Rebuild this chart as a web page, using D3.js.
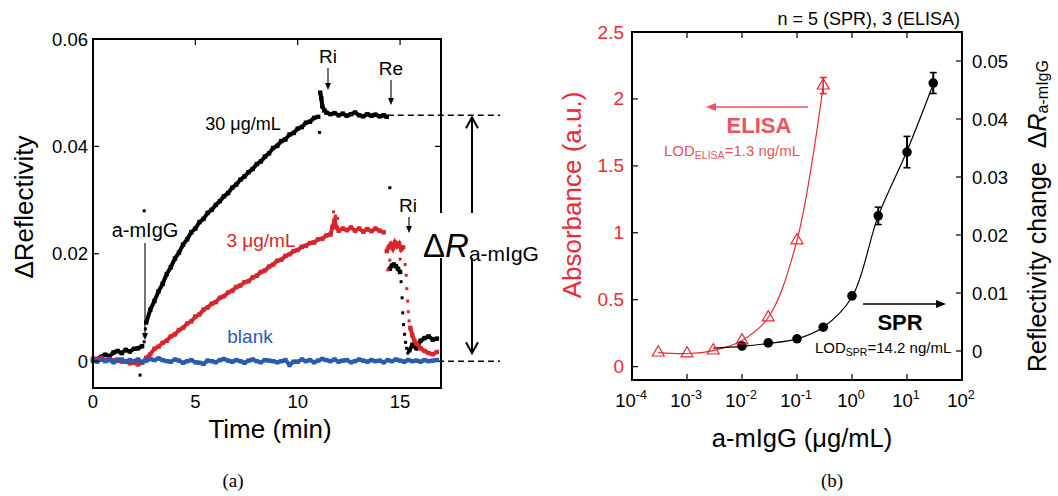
<!DOCTYPE html>
<html><head><meta charset="utf-8">
<script src="https://cdn.jsdelivr.net/npm/d3@7"></script>
<style>
body{margin:0;background:#fff;}
svg text{font-family:"Liberation Sans",Arial,Helvetica,sans-serif;}
</style></head><body>
<svg id="fig" width="1058" height="496"></svg>
<script>
// ---------- Panel (a): SPR sensorgrams, [time (min), ΔReflectivity] ----------
const blankTrace = [
[0,0.0002],[0.2,-0.0001],[0.4,0.0003],[0.6,0.0000],[0.8,0.0002],[1.0,-0.0002],[1.2,0.0001],[1.4,0.0003],[1.6,-0.0001],[1.8,0.0002],
[2.0,0.0000],[2.2,0.0003],[2.4,-0.0002],[2.6,0.0001],[2.8,0.0004],[3.0,0.0002],[3.2,0.0005],[3.4,0.0002],[3.6,0.0000],[3.8,-0.0001],
[4.0,0.0003],[4.2,0.0001],[4.4,-0.0003],[4.6,0.0000],[4.8,0.0002],[5.0,-0.0002],[5.2,-0.0003],[5.4,-0.0005],[5.6,0.0001],[5.8,0.0000],
[6.0,-0.0002],[6.2,0.0002],[6.4,0.0004],[6.6,0.0001],[6.8,-0.0001],[7.0,0.0002],[7.2,0.0000],[7.4,-0.0003],[7.6,0.0001],[7.8,0.0003],
[8.0,0.0000],[8.2,-0.0002],[8.4,0.0002],[8.6,0.0001],[8.8,0.0000],[9.0,-0.0002],[9.2,0.0000],[9.4,0.0002],[9.6,-0.0007],[9.8,-0.0001],
[10.0,-0.0001],[10.2,0.0003],[10.4,0.0000],[10.6,0.0002],[10.8,-0.0002],[11.0,0.0001],[11.2,0.0004],[11.4,0.0002],[11.6,0.0000],[11.8,0.0003],
[12.0,-0.0001],[12.2,0.0001],[12.4,0.0002],[12.6,-0.0002],[12.8,0.0000],[13.0,0.0003],[13.2,0.0001],[13.4,-0.0001],[13.6,0.0002],[13.8,0.0000],
[14.0,0.0001],[14.2,-0.0002],[14.4,0.0002],[14.6,0.0000],[14.8,0.0003],[15.0,0.0001],[15.2,-0.0001],[15.4,0.0002],[15.6,0.0000],[15.8,0.0001],
[16.0,-0.0001],[16.2,0.0002],[16.4,0.0000],[16.6,0.0001],[16.8,0.0002]
];

// 30 µg/mL run (null = gap in the recorded trace)
const trace30 = [
[0.0,0.0001],[0.2,0.0004],[0.4,0.0008],[0.6,0.0012],[0.8,0.0009],[1.0,0.0016],[1.2,0.0019],[1.4,0.0015],[1.6,0.0021],[1.8,0.0018],[2.0,0.0023],[2.2,0.0024],[2.4,0.0028],
null,
[2.6,0.0072],[2.8,0.0096],[3.0,0.0112],[3.2,0.0130],[3.4,0.0144],[3.6,0.0162],[3.8,0.0175],[4.0,0.0191],[4.2,0.0202],[4.4,0.0217],[4.6,0.0227],[4.8,0.0240],
[5.0,0.0247],[5.2,0.0259],[5.4,0.0265],[5.6,0.0276],[5.8,0.0282],[6.0,0.0291],[6.2,0.0298],[6.4,0.0307],[6.6,0.0313],[6.8,0.0323],[7.0,0.0329],[7.2,0.0338],
[7.4,0.0344],[7.6,0.0352],[7.8,0.0358],[8.0,0.0367],[8.2,0.0372],[8.4,0.0381],[8.6,0.0387],[8.8,0.0397],[9.0,0.0401],[9.2,0.0410],[9.4,0.0413],[9.6,0.0422],
[9.8,0.0425],[10.0,0.0433],[10.2,0.0436],[10.4,0.0444],[10.6,0.0446],[10.8,0.0453],[11.0,0.0455],
null,
[11.1,0.0500],[11.15,0.0490],[11.2,0.0475],[11.3,0.0467],[11.4,0.0463],[11.6,0.0460],[11.8,0.0462],[12.0,0.0458],[12.2,0.0461],[12.4,0.0457],[12.6,0.0460],
[12.8,0.0463],[13.0,0.0458],[13.2,0.0456],[13.4,0.0460],[13.6,0.0457],[13.8,0.0459],[14.0,0.0456],[14.2,0.0458],[14.35,0.0455],
null,
[14.5,0.0172],[14.6,0.0178],[14.7,0.0180],[14.8,0.0177],[14.9,0.0172],[15.0,0.0166],
null,
[15.45,0.0020],[15.6,0.0030],[15.8,0.0024],[16.0,0.0038],[16.2,0.0043],[16.4,0.0046],[16.6,0.0040],[16.8,0.0042]
];
const dots30 = [
[2.3,-0.0026],[2.5,0.0280],[2.5,0.0036],[2.53,0.0048],[2.56,0.0060],[11.07,0.0426],[14.5,0.0323],
[15.05,0.0148],[15.1,0.0118],[15.13,0.0090],[15.17,0.0068],[15.22,0.0050],[15.27,0.0035],[15.32,0.0024],[15.38,0.0015]
];

// 3 µg/mL run
const trace3 = [
[0.0,0.0005],[0.2,0.0003],[0.4,0.0006],[0.6,0.0002],[0.8,0.0004],[1.0,0.0001],[1.2,0.0003],[1.4,-0.0001],[1.6,0.0000],[1.8,-0.0004],[2.0,-0.0003],[2.2,-0.0006],[2.4,-0.0003],
[2.6,0.0006],[2.8,0.0013],[3.0,0.0023],[3.2,0.0027],[3.4,0.0034],[3.6,0.0038],[3.8,0.0046],[4.0,0.0050],[4.2,0.0058],[4.4,0.0062],[4.6,0.0070],[4.8,0.0074],
[5.0,0.0083],[5.2,0.0087],[5.4,0.0096],[5.6,0.0100],[5.8,0.0107],[6.0,0.0110],[6.2,0.0118],[6.4,0.0121],[6.6,0.0128],[6.8,0.0131],[7.0,0.0138],[7.2,0.0141],
[7.4,0.0147],[7.6,0.0149],[7.8,0.0156],[8.0,0.0159],[8.2,0.0166],[8.4,0.0169],[8.6,0.0176],[8.8,0.0180],[9.0,0.0187],[9.2,0.0189],[9.4,0.0196],[9.6,0.0199],
[9.8,0.0205],[10.0,0.0207],[10.2,0.0213],[10.4,0.0215],[10.6,0.0220],[10.8,0.0221],[11.0,0.0227],[11.2,0.0228],[11.4,0.0234],[11.6,0.0236],[11.7,0.0250],
[11.8,0.0262],[11.9,0.0249],[12.0,0.0243],[12.2,0.0247],[12.4,0.0244],[12.6,0.0249],[12.8,0.0243],[13.0,0.0247],[13.2,0.0241],[13.4,0.0246],[13.6,0.0242],
[13.8,0.0247],[14.0,0.0243],[14.2,0.0240],
null,
[14.35,0.0205],[14.45,0.0213],[14.55,0.0218],[14.65,0.0210],[14.75,0.0221],[14.85,0.0214],[14.95,0.0219],[15.05,0.0208],[15.15,0.0212],
null,
[15.5,0.0062],[15.6,0.0048],[15.7,0.0038],[15.8,0.0033],[16.0,0.0024],[16.2,0.0019],[16.4,0.0015],[16.6,0.0013],[16.8,0.0017]
];
const dots3 = [
[11.75,0.0278],[11.85,0.0270],[11.95,0.0266],
[14.4,0.0170],[14.5,0.0188],[15.0,0.0190],[15.25,0.0180],[15.3,0.0160],[15.33,0.0135],[15.37,0.0112],[15.4,0.0092],[15.44,0.0075]
];

const plateauLevel = 0.0458;   // ΔR after rinse, 30 µg/mL
const timeTicks = [0,5,10,15];
const reflTicks = [0,0.02,0.04,0.06];
const reflTickLabels = ["0","0.02","0.04","0.06"];

// ---------- Panel (b): dose response ----------
const elisaConc = [3e-4,1e-3,3e-3,1e-2,3e-2,1e-1,3e-1];
const elisaAbs  = [0.105,0.098,0.120,0.195,0.367,0.943,2.100];
const elisaErr  = [0,0,0,0,0,0,0.06];
const sprConc = [1e-2,3e-2,1e-1,3e-1,1,3,10,30];
const sprDR   = [0.00086,0.0014,0.0021,0.0041,0.0095,0.0233,0.0343,0.0462];
const sprErr  = [0,0,0,0,0,0.0015,0.0027,0.0018];
// fitted SPR response curve
const sprFitConc = [3e-3,1e-2,3e-2,1e-1,3e-1,1,3,10,30];
const sprFitDR   = [0.0005,0.0008,0.0013,0.0021,0.0041,0.0093,0.0233,0.0345,0.0460];
const concTicks = [1e-4,1e-3,1e-2,1e-1,1,10,100];
const concExp = ["-4","-3","-2","-1","0","1","2"];
const absTicks = [0,0.5,1,1.5,2,2.5];
const absTickLabels = ["0","0.5","1","1.5","2","2.5"];
const drTicks = [0,0.01,0.02,0.03,0.04,0.05];
const drTickLabels = ["0","0.01","0.02","0.03","0.04","0.05"];

const RED_TRACE = "#d8252c", BLUE = "#2b5bb0", RED = "#ea2a35", RED_SOFT = "#eb545c";
const svg = d3.select("#fig");

function arrowDown(g, x, y1, y2, col){
  g.append("line").attr("x1",x).attr("x2",x).attr("y1",y1).attr("y2",y2-6)
    .attr("stroke",col).attr("stroke-width",1.1);
  g.append("path").attr("d",`M${x-3},${y2-7}L${x+3},${y2-7}L${x},${y2}Z`).attr("fill",col);
}

// ===== panel (a) =====
const xa = d3.scaleLinear().domain([0,17]).range([93,441]);
const ya = d3.scaleLinear().domain([-0.005,0.06]).range([388,39]);
const ga = svg.append("g");

const line = d3.line().defined(d=>d!==null).x(d=>xa(d[0])).y(d=>ya(d[1]));
function drawTrace(data, dots, col){
  ga.append("path").attr("d",line(data)).attr("fill","none").attr("stroke",col)
    .attr("stroke-width",4).attr("stroke-linejoin","miter");
  ga.selectAll(null).data(data.filter(d=>d!==null)).enter().append("rect")
    .attr("x",d=>xa(d[0])-2.2).attr("y",d=>ya(d[1])-2.2).attr("width",4.4).attr("height",4.4).attr("fill",col);
  ga.selectAll(null).data(dots).enter().append("rect")
    .attr("x",d=>xa(d[0])-1.5).attr("y",d=>ya(d[1])-1.5).attr("width",3).attr("height",3).attr("fill",col);
}

// dashed reference levels
ga.append("line").attr("x1",xa(14.4)).attr("x2",500).attr("y1",ya(plateauLevel)).attr("y2",ya(plateauLevel))
  .attr("stroke","#000").attr("stroke-width",1.5).attr("stroke-dasharray","6,4");
ga.append("line").attr("x1",xa(14.9)).attr("x2",500).attr("y1",ya(0)).attr("y2",ya(0))
  .attr("stroke","#000").attr("stroke-width",1.5).attr("stroke-dasharray","6,4");

drawTrace(trace30, dots30, "#000");
drawTrace(trace3, dots3, RED_TRACE);
drawTrace(blankTrace, [], BLUE);

// frame with a break on the right edge for the ΔR label
const fa = {l:xa(0), r:xa(17), t:ya(0.06), b:ya(-0.005)};
ga.append("path").attr("d",`M${fa.r},213L${fa.r},${fa.t}L${fa.l},${fa.t}L${fa.l},${fa.b}L${fa.r},${fa.b}L${fa.r},258`)
  .attr("fill","none").attr("stroke","#000").attr("stroke-width",2);
// inward ticks
reflTicks.forEach(v=>{
  ga.append("line").attr("x1",fa.l).attr("x2",fa.l+6).attr("y1",ya(v)).attr("y2",ya(v)).attr("stroke","#000").attr("stroke-width",1.2);
});
ga.append("line").attr("x1",fa.r).attr("x2",fa.r-6).attr("y1",ya(0.04)).attr("y2",ya(0.04)).attr("stroke","#000").attr("stroke-width",1.2);
timeTicks.slice(1).forEach(v=>{
  ga.append("line").attr("x1",xa(v)).attr("x2",xa(v)).attr("y1",fa.t).attr("y2",fa.t+6).attr("stroke","#000").attr("stroke-width",1.2);
});
// tick labels
reflTicks.forEach((v,i)=>{
  ga.append("text").attr("x",88).attr("y",ya(v)+6.5).attr("text-anchor","end").attr("font-size",18.5).text(reflTickLabels[i]);
});
timeTicks.forEach(v=>{
  ga.append("text").attr("x",xa(v)).attr("y",408).attr("text-anchor","middle").attr("font-size",18.5).text(v);
});
ga.append("text").attr("x",270).attr("y",438).attr("text-anchor","middle").attr("font-size",26).text("Time (min)");
ga.append("text").attr("transform","translate(33,207) rotate(-90)").attr("text-anchor","middle").attr("font-size",26).text("ΔReflectivity");

// annotations
ga.append("text").attr("x",243).attr("y",130).attr("text-anchor","middle").attr("font-size",18).text("30 μg/mL");
ga.append("text").attr("x",261).attr("y",247).attr("text-anchor","middle").attr("font-size",19).attr("fill",RED_TRACE).text("3 μg/mL");
ga.append("text").attr("x",250).attr("y",343).attr("text-anchor","middle").attr("font-size",19).attr("fill",BLUE).text("blank");
ga.append("text").attr("x",145).attr("y",237).attr("text-anchor","middle").attr("font-size",20).text("a-mIgG");
arrowDown(ga, 145, 243, 340, "#000");
ga.append("text").attr("x",328).attr("y",63).attr("text-anchor","middle").attr("font-size",19).text("Ri");
arrowDown(ga, 328, 68, 90, "#000");
ga.append("text").attr("x",391).attr("y",75).attr("text-anchor","middle").attr("font-size",19).text("Re");
arrowDown(ga, 391, 80, 105, "#000");
ga.append("text").attr("x",408).attr("y",212).attr("text-anchor","middle").attr("font-size",19).text("Ri");
arrowDown(ga, 409, 217, 233, "#000");

// ΔR double arrow
const ax = 472, yTop = ya(plateauLevel)+2, yBot = ya(0)-8;
ga.append("line").attr("x1",ax).attr("x2",ax).attr("y1",yTop).attr("y2",213).attr("stroke","#000").attr("stroke-width",2);
ga.append("line").attr("x1",ax).attr("x2",ax).attr("y1",258).attr("y2",yBot).attr("stroke","#000").attr("stroke-width",2);
ga.append("path").attr("d",`M${ax-6},${yTop+11}L${ax},${yTop}L${ax+6},${yTop+11}`).attr("fill","none").attr("stroke","#000").attr("stroke-width",2);
ga.append("path").attr("d",`M${ax-6},${yBot-11}L${ax},${yBot}L${ax+6},${yBot-11}`).attr("fill","none").attr("stroke","#000").attr("stroke-width",2);
const dR = ga.append("text").attr("x",423).attr("y",257);
dR.append("tspan").attr("font-size",33).text("Δ");
dR.append("tspan").attr("font-size",33).attr("font-style","italic").text("R");
dR.append("tspan").attr("font-size",21).attr("dy",4).text("a-mIgG");

// ===== panel (b) =====
const xb = d3.scaleLog().domain([1e-4,1e2]).range([632,962]);
const yb = d3.scaleLinear().domain([-0.1,2.5]).range([380,32]);
const yr = d3.scaleLinear().domain([-0.005,0.055]).range([380,32]);
const gb = svg.append("g");

gb.append("rect").attr("x",632).attr("y",32).attr("width",330).attr("height",348)
  .attr("fill","none").attr("stroke","#000").attr("stroke-width",2);
concTicks.slice(1,-1).forEach(v=>{
  gb.append("line").attr("x1",xb(v)).attr("x2",xb(v)).attr("y1",32).attr("y2",38).attr("stroke","#000").attr("stroke-width",1.2);
  gb.append("line").attr("x1",xb(v)).attr("x2",xb(v)).attr("y1",380).attr("y2",374).attr("stroke","#000").attr("stroke-width",1.2);
});
absTicks.slice(0,-1).forEach(v=>{
  gb.append("line").attr("x1",632).attr("x2",638).attr("y1",yb(v)).attr("y2",yb(v)).attr("stroke","#000").attr("stroke-width",1.2);
});
drTicks.forEach(v=>{
  gb.append("line").attr("x1",962).attr("x2",956).attr("y1",yr(v)).attr("y2",yr(v)).attr("stroke","#000").attr("stroke-width",1.2);
});
// tick labels
absTicks.forEach((v,i)=>{
  gb.append("text").attr("x",624).attr("y",yb(v)+6.5).attr("text-anchor","end").attr("font-size",19).attr("fill",RED).text(absTickLabels[i]);
});
drTicks.forEach((v,i)=>{
  gb.append("text").attr("x",972).attr("y",yr(v)+6.5).attr("font-size",18.5).text(drTickLabels[i]);
});
concTicks.forEach((v,i)=>{
  const t = gb.append("text").attr("x",xb(v)-1).attr("y",407).attr("text-anchor","middle").attr("font-size",18.5);
  t.append("tspan").text("10");
  t.append("tspan").attr("font-size",12.5).attr("dy",-8).text(concExp[i]);
});
gb.append("text").attr("x",802).attr("y",447).attr("text-anchor","middle").attr("font-size",25.5).text("a-mIgG (μg/mL)");
gb.append("text").attr("transform","translate(581,195) rotate(-90)").attr("text-anchor","middle").attr("font-size",26).attr("fill",RED).text("Absorbance (a.u.)");
const rl = gb.append("text").attr("transform","translate(1046,372) rotate(-90)").attr("font-size",25);
rl.append("tspan").text("Reflectivity change");
rl.append("tspan").attr("dx",14).text("Δ");
rl.append("tspan").attr("font-style","italic").text("R");
rl.append("tspan").attr("font-size",16).attr("dy",2).text("a-mIgG");
gb.append("text").attr("x",960).attr("y",25).attr("text-anchor","end").attr("font-size",18).text("n = 5 (SPR), 3 (ELISA)");

// fitted curves
const elisaPts = elisaConc.map((c,i)=>[c,elisaAbs[i]]);
const sprPts = sprConc.map((c,i)=>[c,sprDR[i]]);
const sprFit = sprFitConc.map((c,i)=>[c,sprFitDR[i]]);
gb.append("path").attr("d",d3.line().x(d=>xb(d[0])).y(d=>yb(d[1])).curve(d3.curveCatmullRom.alpha(0.5))(elisaPts))
  .attr("fill","none").attr("stroke",RED).attr("stroke-width",1.2);
gb.append("path").attr("d",d3.line().x(d=>xb(d[0])).y(d=>yr(d[1])).curve(d3.curveCatmullRom.alpha(0.5))(sprFit))
  .attr("fill","none").attr("stroke","#000").attr("stroke-width",1.2);

// SPR points + error bars
sprPts.forEach((p,i)=>{
  if(sprErr[i]>0){
    const x = xb(p[0]), y1 = yr(p[1]-sprErr[i]), y2 = yr(p[1]+sprErr[i]);
    gb.append("line").attr("x1",x).attr("x2",x).attr("y1",y1).attr("y2",y2).attr("stroke","#000").attr("stroke-width",2);
    [y1,y2].forEach(y=>gb.append("line").attr("x1",x-3.5).attr("x2",x+3.5).attr("y1",y).attr("y2",y).attr("stroke","#000").attr("stroke-width",1.6));
  }
  gb.append("circle").attr("cx",xb(p[0])).attr("cy",yr(p[1])).attr("r",4.8).attr("fill","#000");
});
// ELISA points + error bars
elisaPts.forEach((p,i)=>{
  if(elisaErr[i]>0){
    const x = xb(p[0]), y1 = yb(p[1]-elisaErr[i]), y2 = yb(p[1]+elisaErr[i]);
    gb.append("line").attr("x1",x).attr("x2",x).attr("y1",y1).attr("y2",y2).attr("stroke",RED).attr("stroke-width",1.6);
    [y1,y2].forEach(y=>gb.append("line").attr("x1",x-3.5).attr("x2",x+3.5).attr("y1",y).attr("y2",y).attr("stroke",RED).attr("stroke-width",1.6));
  }
  gb.append("path").attr("d",d3.symbol(d3.symbolTriangle,62)())
    .attr("transform",`translate(${xb(p[0])},${yb(p[1])})`).attr("fill","none").attr("stroke",RED).attr("stroke-width",1.2);
});

// method annotations
gb.append("line").attr("x1",808).attr("x2",714).attr("y1",107).attr("y2",107).attr("stroke",RED_SOFT).attr("stroke-width",1.5);
gb.append("path").attr("d","M706,107L716,103L716,111Z").attr("fill",RED_SOFT);
gb.append("text").attr("x",759).attr("y",133).attr("text-anchor","middle").attr("font-size",22).attr("font-weight","bold").attr("fill",RED_SOFT).text("ELISA");
const le = gb.append("text").attr("x",664).attr("y",156).attr("font-size",15).attr("fill",RED_SOFT);
le.append("tspan").text("LOD");
le.append("tspan").attr("font-size",10.5).attr("dy",3).text("ELISA");
le.append("tspan").attr("dy",-3).text("=1.3 ng/mL");

gb.append("line").attr("x1",863).attr("x2",937).attr("y1",304).attr("y2",304).attr("stroke","#000").attr("stroke-width",1.5);
gb.append("path").attr("d","M946,304L936,300L936,308Z").attr("fill","#000");
gb.append("text").attr("x",900).attr("y",330).attr("text-anchor","middle").attr("font-size",22).attr("font-weight","bold").text("SPR");
const ls = gb.append("text").attr("x",815).attr("y",353).attr("font-size",15);
ls.append("tspan").text("LOD");
ls.append("tspan").attr("font-size",10.5).attr("dy",3).text("SPR");
ls.append("tspan").attr("dy",-3).text("=14.2 ng/mL");

// panel letters
svg.append("text").attr("x",233).attr("y",487).attr("text-anchor","middle").attr("font-size",19)
  .style("font-family",'"Liberation Serif","Times New Roman",serif').text("(a)");
svg.append("text").attr("x",832).attr("y",487).attr("text-anchor","middle").attr("font-size",19)
  .style("font-family",'"Liberation Serif","Times New Roman",serif').text("(b)");
</script></body></html>
